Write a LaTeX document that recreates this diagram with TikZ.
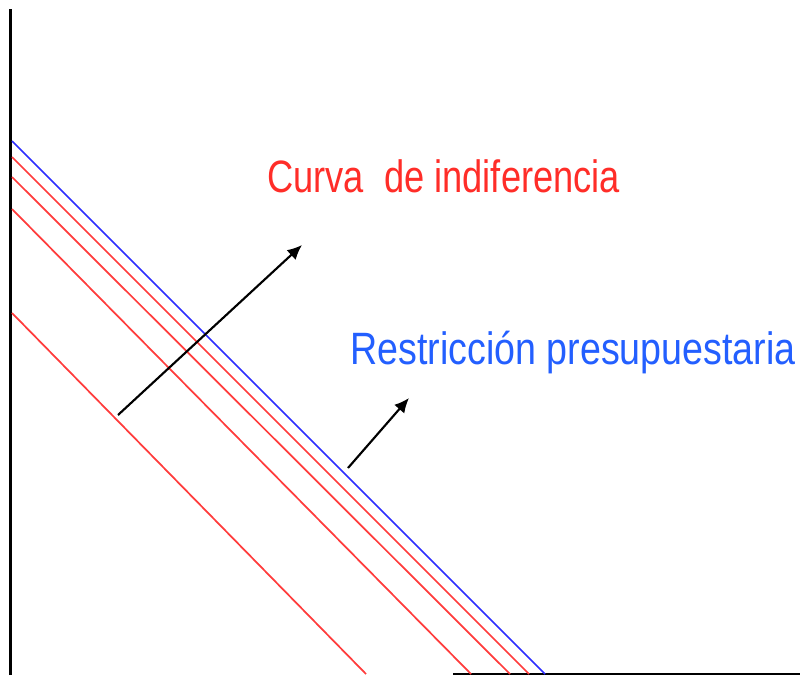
\documentclass[tikz,border=0pt]{standalone}
\usepackage{fontspec}
\setmainfont{Liberation Sans}
\usepackage{tikz}
\usetikzlibrary{arrows.meta}
\definecolor{indred}{RGB}{255,60,60}
\definecolor{budblue}{RGB}{45,45,255}
\definecolor{txtred}{RGB}{255,45,40}
\definecolor{txtblue}{RGB}{35,95,255}
\tikzset{
  curve/.style={indred,line width=1.3pt},
  budget/.style={budblue,line width=1.3pt},
  shift arrow/.style={line width=1.6pt,>={Latex[length=11pt,width=10pt]},->},
  label text/.style={inner sep=0pt,anchor=base west,font=\fontsize{34}{40}\selectfont}
}
\newcommand{\narrow}[2]{\scalebox{#1}[1]{#2}}

\begin{document}
\begin{tikzpicture}[x=0.75pt,y=-0.75pt]
\useasboundingbox (0,0) rectangle (800,675);
\coordinate (O) at (10.5,675);
\coordinate (Y) at (10.5,9);
\coordinate (X1) at (453,673.5);
\coordinate (X2) at (800,673.5);
\draw[line width=2.25pt] (O)--(Y);
\draw[line width=1.5pt] (X1)--(X2);
% budget line and indifference curves
\coordinate (B1) at (12,141);
\coordinate (B2) at (545,674);
\coordinate (R1a) at (12,157);
\coordinate (R1b) at (529,674);
\coordinate (R2a) at (12,177);
\coordinate (R2b) at (510,674);
\coordinate (R3a) at (12,209);
\coordinate (R3b) at (471,674);
\coordinate (R4a) at (12,313);
\coordinate (R4b) at (366,674);
\draw[curve] (R4a)--(R4b);
\draw[curve] (R3a)--(R3b);
\draw[curve] (R2a)--(R2b);
\draw[curve] (R1a)--(R1b);
\draw[budget] (B1)--(B2);
% arrows
\coordinate (P1) at (118,415);
\coordinate (Q1) at (302,245);
\coordinate (P2) at (348,468);
\coordinate (Q2) at (409,398);
\draw[shift arrow] (P1)--(Q1);
\draw[shift arrow] (P2)--(Q2);
% labels
\node[label text,txtred] (curva) at (267,192) {\narrow{0.80}{Curva\ \ de indiferencia}};
\node[label text,txtblue] (restr) at (350,364) {\narrow{0.83}{Restricción presupuestaria}};
\end{tikzpicture}
\end{document}
